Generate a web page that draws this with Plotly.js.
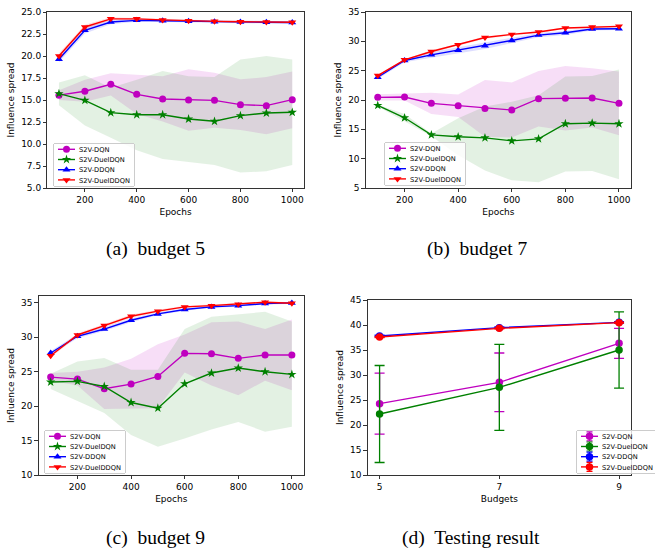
<!DOCTYPE html>
<html>
<head>
<meta charset="utf-8">
<script src="https://cdn.plot.ly/plotly-3.0.1.min.js"></script>
<style>html,body{margin:0;padding:0;background:#fff;}#chart{width:655px;height:549px;}</style>
</head>
<body>
<div id="chart"></div>
<script>
// ---------- data ----------
const epochs = [100, 200, 300, 400, 500, 600, 700, 800, 900, 1000];
const seriesNames = ['S2V-DQN', 'S2V-DuelDQN', 'S2V-DDQN', 'S2V-DuelDDQN'];

// (a) budget 5
const a_dqn      = [15.55, 16.0, 16.78, 15.64, 15.11, 15.0, 14.96, 14.47, 14.36, 15.04];
const a_dqn_hi   = [16.1, 17.3, 18.05, 17.9, 17.7, 18.5, 18.1, 17.35, 17.6, 18.25];
const a_dqn_lo   = [15.0, 14.8, 15.5, 13.4, 12.55, 11.5, 11.85, 11.6, 11.1, 11.8];
const a_duel     = [15.72, 14.96, 13.56, 13.33, 13.33, 12.84, 12.58, 13.22, 13.52, 13.6];
const a_duel_hi  = [17.0, 17.8, 16.4, 17.3, 18.3, 17.7, 17.6, 19.6, 20.0, 19.6];
const a_duel_lo  = [14.4, 12.1, 10.7, 9.3, 8.3, 7.95, 7.6, 6.75, 6.9, 7.6];
const a_ddqn     = [19.62, 22.92, 23.86, 24.05, 24.0, 23.94, 23.9, 23.86, 23.83, 23.8];
const a_ddqn_hi  = [19.95, 23.3, 24.1, 24.2, 24.15, 24.1, 24.05, 24.0, 23.98, 23.95];
const a_ddqn_lo  = [19.3, 22.55, 23.6, 23.9, 23.85, 23.8, 23.75, 23.72, 23.68, 23.65];
const a_dd2      = [20.0, 23.3, 24.22, 24.22, 24.1, 24.0, 23.94, 23.9, 23.86, 23.83];
const a_dd2_hi   = [20.3, 23.55, 24.4, 24.35, 24.22, 24.12, 24.05, 24.0, 23.97, 23.94];
const a_dd2_lo   = [19.7, 23.05, 24.05, 24.1, 23.98, 23.88, 23.83, 23.8, 23.75, 23.72];

// (b) budget 7
const b_dqn      = [20.45, 20.5, 19.43, 19.03, 18.57, 18.29, 20.23, 20.28, 20.34, 19.43];
const b_dqn_hi   = [21.0, 21.1, 21.25, 20.95, 23.4, 23.0, 24.95, 25.8, 25.4, 24.85];
const b_dqn_lo   = [19.9, 19.9, 17.6, 17.1, 13.75, 13.6, 15.5, 14.8, 15.3, 14.0];
const b_duel     = [19.08, 16.97, 14.06, 13.73, 13.55, 13.04, 13.38, 15.95, 16.06, 15.95];
const b_duel_hi  = [19.2, 17.6, 14.3, 16.9, 18.9, 19.7, 20.8, 24.0, 24.1, 25.2];
const b_duel_lo  = [18.9, 16.3, 13.8, 10.6, 8.0, 6.3, 6.0, 7.8, 7.9, 6.5];
const b_ddqn     = [23.88, 26.73, 27.7, 28.5, 29.24, 30.15, 31.06, 31.46, 32.09, 32.15];
const b_ddqn_hi  = [24.2, 27.0, 28.2, 29.0, 29.8, 30.6, 31.4, 31.8, 32.3, 32.35];
const b_ddqn_lo  = [23.6, 26.45, 27.2, 28.0, 28.7, 29.7, 30.7, 31.1, 31.85, 31.95];
const b_dd2      = [24.16, 26.84, 28.27, 29.41, 30.66, 31.18, 31.58, 32.26, 32.43, 32.55];
const b_dd2_hi   = [24.35, 27.0, 28.5, 29.6, 30.85, 31.35, 31.75, 32.4, 32.56, 32.68];
const b_dd2_lo   = [23.95, 26.65, 28.05, 29.2, 30.45, 31.0, 31.4, 32.1, 32.3, 32.42];

// (c) budget 9
const c_dqn      = [24.22, 23.93, 22.52, 23.2, 24.32, 27.67, 27.62, 26.94, 27.43, 27.43];
const c_dqn_hi   = [24.8, 25.0, 25.6, 26.9, 29.0, 30.4, 32.2, 32.3, 31.2, 32.6];
const c_dqn_lo   = [23.7, 23.0, 19.6, 19.6, 19.7, 24.9, 23.0, 21.6, 23.7, 22.3];
const c_duel     = [23.5, 23.6, 22.86, 20.53, 19.71, 23.25, 24.81, 25.53, 25.0, 24.61];
const c_duel_hi  = [24.7, 26.5, 27.0, 25.3, 25.3, 31.2, 33.0, 33.3, 33.7, 32.3];
const c_duel_lo  = [22.5, 20.7, 19.0, 15.8, 14.1, 15.3, 16.6, 17.7, 16.3, 17.0];
const c_ddqn     = [27.72, 30.15, 31.2, 32.48, 33.4, 34.03, 34.42, 34.6, 34.9, 35.0];
const c_ddqn_hi  = [28.0, 30.45, 31.5, 32.75, 33.6, 34.2, 34.55, 34.75, 35.05, 35.15];
const c_ddqn_lo  = [27.45, 29.85, 30.9, 32.2, 33.2, 33.85, 34.3, 34.45, 34.75, 34.85];
const c_dd2      = [27.33, 30.34, 31.7, 33.06, 33.8, 34.42, 34.6, 34.8, 35.1, 34.95];
const c_dd2_hi   = [27.6, 30.6, 31.95, 33.3, 34.0, 34.58, 34.75, 34.95, 35.22, 35.1];
const c_dd2_lo   = [27.05, 30.1, 31.45, 32.8, 33.6, 34.25, 34.45, 34.65, 34.98, 34.8];

// (d) testing result
const budgets    = [5, 7, 9];
const d_dqn      = [24.27, 28.53, 36.33];
const d_dqn_err  = [6.1, 5.87, 3.0];
const d_duel     = [22.2, 27.53, 35.0];
const d_duel_err = [9.7, 8.6, 7.63];
const d_ddqn     = [37.8, 39.47, 40.53];
const d_ddqn_err = [0.15, 0.15, 0.15];
const d_dd2      = [37.6, 39.33, 40.47];
const d_dd2_err  = [0.1, 0.1, 0.1];

const yTicksA = [5, 7.5, 10, 12.5, 15, 17.5, 20, 22.5, 25];
const epochTicks = [200, 400, 600, 800, 1000];
const captions = ['(a)  budget 5', '(b)  budget 7', '(c)  budget 9', '(d)  Testing result'];

// ---------- styles ----------
const colors  = ['#bf00bf', '#008000', '#0000ff', '#ff0000'];
const fills   = ['rgba(191,0,191,0.13)', 'rgba(0,128,0,0.11)', 'rgba(0,0,255,0.13)', 'rgba(255,0,0,0.13)'];
const symbols = ['circle', 'star', 'triangle-up', 'triangle-down'];
const msizes  = [7, 7, 7, 7];

const traces = [];
function addBand(x, lo, hi, k, p) {
  const ax = p === 1 ? '' : String(p);
  traces.push({x: x, y: hi, xaxis: 'x' + ax, yaxis: 'y' + ax, mode: 'lines',
    line: {width: 0, color: fills[k]}, showlegend: false, hoverinfo: 'skip'});
  traces.push({x: x, y: lo, xaxis: 'x' + ax, yaxis: 'y' + ax, mode: 'lines', fill: 'tonexty',
    fillcolor: fills[k], line: {width: 0, color: fills[k]}, showlegend: false, hoverinfo: 'skip'});
}
function addLine(x, y, k, p, err) {
  const ax = p === 1 ? '' : String(p);
  const t = {x: x, y: y, name: seriesNames[k], xaxis: 'x' + ax, yaxis: 'y' + ax,
    mode: 'lines+markers', line: {color: colors[k], width: 1.4},
    marker: {color: colors[k], symbol: err ? 'circle' : symbols[k], size: err ? 7.5 : msizes[k]},
    legend: p === 1 ? 'legend' : 'legend' + p};
  if (err) t.error_y = {type: 'data', array: err, visible: true, color: colors[k], thickness: 1.3, width: 5};
  traces.push(t);
}
const panels = [
  {p: 1, s: [[a_dqn, a_dqn_lo, a_dqn_hi], [a_duel, a_duel_lo, a_duel_hi], [a_ddqn, a_ddqn_lo, a_ddqn_hi], [a_dd2, a_dd2_lo, a_dd2_hi]]},
  {p: 2, s: [[b_dqn, b_dqn_lo, b_dqn_hi], [b_duel, b_duel_lo, b_duel_hi], [b_ddqn, b_ddqn_lo, b_ddqn_hi], [b_dd2, b_dd2_lo, b_dd2_hi]]},
  {p: 3, s: [[c_dqn, c_dqn_lo, c_dqn_hi], [c_duel, c_duel_lo, c_duel_hi], [c_ddqn, c_ddqn_lo, c_ddqn_hi], [c_dd2, c_dd2_lo, c_dd2_hi]]}
];
panels.forEach(pn => {
  pn.s.forEach((s, k) => addBand(epochs, s[1], s[2], k, pn.p));
  pn.s.forEach((s, k) => addLine(epochs, s[0], k, pn.p));
});
[[d_dqn, d_dqn_err], [d_duel, d_duel_err], [d_ddqn, d_ddqn_err], [d_dd2, d_dd2_err]]
  .forEach((s, k) => addLine(budgets, s[0], k, 4, s[1]));

// ---------- layout ----------
const W = 655, H = 549;
const tickFont = {family: 'DejaVu Sans', size: 9, color: '#000'};
const titleFont = {family: 'DejaVu Sans', size: 9, color: '#000'};
function axis(extra) {
  return Object.assign({showline: true, mirror: true, linecolor: '#000', linewidth: 0.8,
    ticks: 'outside', ticklen: 3.5, tickwidth: 0.8, tickcolor: '#000', showgrid: false,
    zeroline: false, tickfont: tickFont, fixedrange: true}, extra);
}
function px(a, b) { return [a / W, b / W]; }
function py(top, bot) { return [1 - bot / H, 1 - top / H]; }
// legend top-left corners in pixels (matplotlib-like placement)
const legendPos = {legend: [53, 143], legend2: [384, 142], legend3: [44, 430], legend4: [576, 430]};
function legendAt(id) {
  const p = legendPos[id];
  return {x: p[0] / W, y: 1 - p[1] / H, xanchor: 'left', yanchor: 'top', xref: 'paper', yref: 'paper',
    traceorder: 'normal',
    bgcolor: 'rgba(255,255,255,0.8)', bordercolor: '#cccccc', borderwidth: 1,
    font: {family: 'DejaVu Sans', size: 6.7, color: '#000'}};
}
const epochAxis = {range: [55, 1045], tickvals: epochTicks, title: {text: 'Epochs', font: titleFont, standoff: 4}};
const layout = {
  width: W, height: H, margin: {l: 0, r: 0, t: 0, b: 0},
  paper_bgcolor: '#fff', plot_bgcolor: '#fff', showlegend: true,
  font: {family: 'DejaVu Sans', color: '#000'},
  xaxis:  axis(Object.assign({domain: px(49, 315), anchor: 'y'}, epochAxis)),
  yaxis:  axis({domain: py(12, 188), anchor: 'x', range: [5, 25], tickvals: yTicksA, tickformat: '.1f',
           title: {text: 'Influence spread', font: titleFont, standoff: 4}}),
  xaxis2: axis(Object.assign({domain: px(379, 654), anchor: 'y2'}, epochAxis)),
  yaxis2: axis({domain: py(12, 188), anchor: 'x2', range: [5, 35], dtick: 5,
           title: {text: 'Influence spread', font: titleFont, standoff: 4}}),
  xaxis3: axis(Object.assign({domain: px(40, 315), anchor: 'y3'}, epochAxis)),
  yaxis3: axis({domain: py(296, 475), anchor: 'x3', range: [10, 36], dtick: 5, tick0: 10,
           title: {text: 'Influence spread', font: titleFont, standoff: 4}}),
  xaxis4: axis({domain: px(381, 654), anchor: 'y4', range: [4.8, 9.2], tickvals: budgets,
           title: {text: 'Budgets', font: titleFont, standoff: 4}}),
  yaxis4: axis({domain: py(300, 475), anchor: 'x4', range: [10, 45], dtick: 5, tick0: 10,
           title: {text: 'Influence spread', font: titleFont, standoff: 4}}),
  legend:  legendAt('legend'),
  legend2: legendAt('legend2'),
  legend3: legendAt('legend3'),
  legend4: legendAt('legend4'),
  annotations: [[161, 249], [494, 249], [161, 538], [488, 538]].map((c, i) => ({
    text: captions[i], xref: 'paper', yref: 'paper', x: c[0] / W, y: 1 - c[1] / H,
    xanchor: 'center', yanchor: 'middle', showarrow: false,
    font: {family: 'Liberation Serif', size: 19.5, color: '#000'}}))
};

// compact matplotlib-like legends
function fixLegends(gd) {
  gd.querySelectorAll('.infolayer > g').forEach(lg => {
    const cls = (lg.getAttribute('class') || '').split(' ')[0];
    if (!legendPos[cls]) return;
    lg.setAttribute('transform', 'translate(' + legendPos[cls][0] + ',' + legendPos[cls][1] + ')');
    const items = lg.querySelectorAll('g.traces');
    const step = 10.2, top = 6.3;
    let maxW = 0;
    items.forEach((it, i) => {
      it.setAttribute('transform', 'translate(0,' + (top + i * step) + ')');
      it.querySelectorAll('.legendlines path').forEach(p => p.setAttribute('d', 'M5,0h17'));
      it.querySelectorAll('.legendpoints path').forEach(p => p.setAttribute('transform', 'translate(13.5,0)'));
      if (cls === 'legend4' && !it.querySelector('path.mplerr')) {
        const ns = 'http://www.w3.org/2000/svg';
        const pth = document.createElementNS(ns, 'path');
        pth.setAttribute('class', 'mplerr');
        pth.setAttribute('d', 'M13.5,-4.5V4.5M10.5,-4.5H16.5M10.5,4.5H16.5');
        pth.setAttribute('stroke', colors[i]);
        pth.setAttribute('stroke-width', '1.2');
        pth.setAttribute('fill', 'none');
        const lines = it.querySelector('.legendlines') || it.querySelector('.legendpoints');
        if (lines) lines.parentNode.insertBefore(pth, lines.nextSibling);
      }
      const txt = it.querySelector('text');
      if (txt) {
        txt.style.transform = 'translate(-14px, 0px)';
        maxW = Math.max(maxW, txt.getComputedTextLength());
      }
    });
    const bg = lg.querySelector('rect.bg');
    if (bg) {
      bg.setAttribute('height', top * 2 + (items.length - 1) * step);
      bg.setAttribute('width', 26 + maxW + 4);
      bg.setAttribute('rx', 2); bg.setAttribute('ry', 2);
    }
  });
}

Plotly.newPlot('chart', traces, layout, {displayModeBar: false, staticPlot: true})
  .then(gd => {
    fixLegends(gd);
    setTimeout(() => fixLegends(gd), 50);
    setTimeout(() => fixLegends(gd), 300);
  });
</script>
</body>
</html>
